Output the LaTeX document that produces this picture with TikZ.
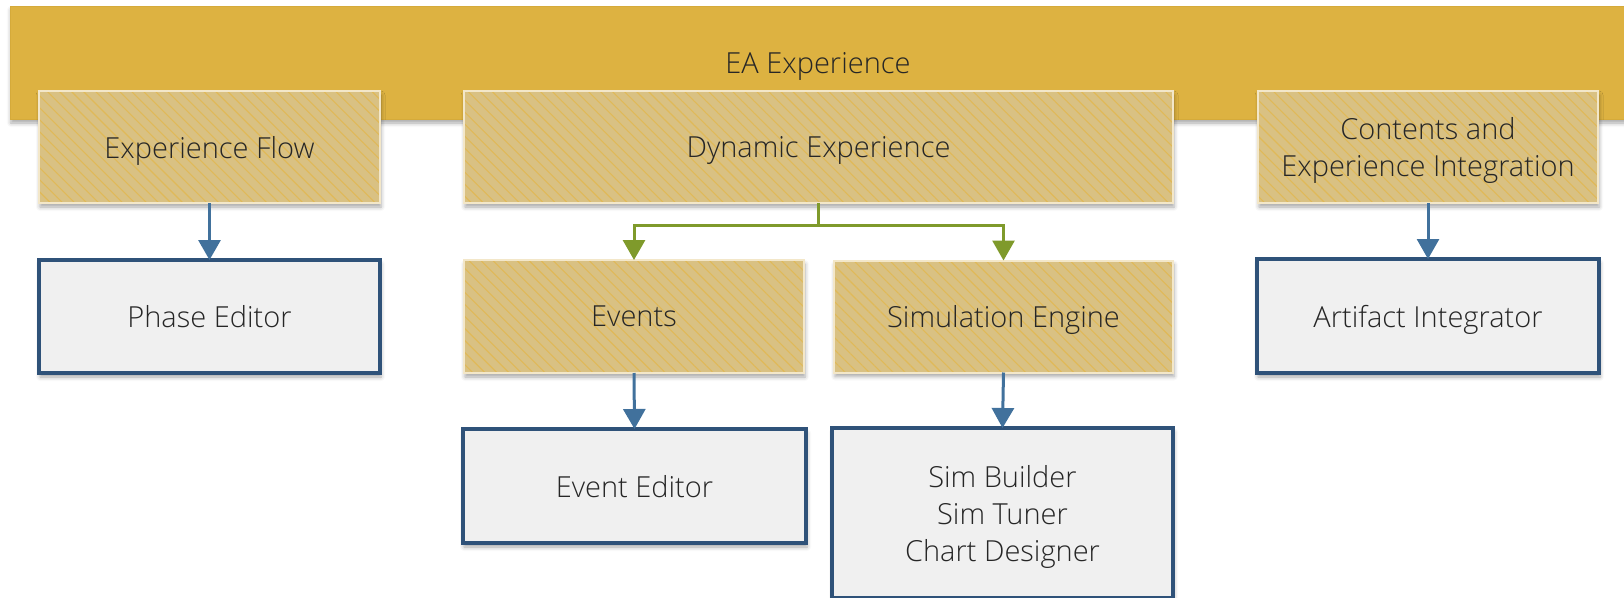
\documentclass[tikz,border=0pt]{standalone}
\usepackage{fontspec}
\IfFontExistsTF{Open Sans Light}
  {\setmainfont{Open Sans Light}\def\inkcol{262626}}
  {\setmainfont{Open Sans}\def\inkcol{3A3A3A}}
\usetikzlibrary{arrows.meta,patterns.meta,shadows.blur}

\definecolor{barfill}{HTML}{DDB241}
\definecolor{baredge}{HTML}{D5AA3A}
\definecolor{tanfill}{HTML}{D9C183}
\definecolor{tanstripe}{HTML}{E0B958}
\definecolor{tanedge}{HTML}{F3E7C9}
\definecolor{boxfill}{HTML}{F0F0F0}
\definecolor{boxedge}{HTML}{2F5279}
\definecolor{bluearrow}{HTML}{41719C}
\definecolor{greenarrow}{HTML}{7F9A2B}
\definecolor{textcol}{HTML}{\inkcol}

\tikzset{
  softshadow/.style={blur shadow={shadow xshift=1pt, shadow yshift=-4pt,
      shadow blur radius=4pt, shadow opacity=35}},
  txt/.style={font=\fontsize{29}{37}\selectfont, text=textcol, align=center,
      text depth=0pt, inner sep=0pt, outer sep=0pt},
  bar/.style={txt, rectangle, fill=barfill, draw=baredge, line width=1pt, softshadow},
  hatchbox/.style={txt, rectangle, draw=tanedge, line width=2pt, softshadow,
      preaction={fill=tanfill},
      pattern={Lines[angle=-45, distance=8.5pt, line width=1.1pt]},
      pattern color=tanstripe},
  toolbox/.style={txt, rectangle, fill=boxfill, draw=boxedge, line width=3.3pt, softshadow},
  blueline/.style={draw=bluearrow, line width=3pt,
      -{Triangle[width=22pt, length=20pt]}},
  greenline/.style={draw=greenarrow, line width=3pt,
      -{Triangle[width=22pt, length=20pt]}},
}

\begin{document}
\begin{tikzpicture}[x=1pt, y=-1pt]
  \useasboundingbox (0,0) rectangle (1624,597);

  % banner across the top
  \node[bar, minimum width=1616pt, minimum height=113pt] (ea) at (818,62.5) {EA Experience};

  % capability areas
  \node[hatchbox, minimum width=341pt, minimum height=112pt] (flow) at (209.5,147) {Experience Flow};
  \node[hatchbox, minimum width=709pt, minimum height=112pt] (dyn) at (818.5,147) {Dynamic Experience};
  \node[hatchbox, minimum width=340pt, minimum height=112pt] (cont) at (1428,147) {Contents and\\Experience Integration};

  % sub-areas of dynamic experience
  \node[hatchbox, minimum width=340pt, minimum height=113pt] (events) at (634,316.5) {Events};
  \node[hatchbox, minimum width=339pt, minimum height=112pt] (simeng) at (1003.5,316.5) {Simulation Engine};

  % tools
  \node[toolbox, minimum width=341pt, minimum height=113pt] (phase) at (209.5,316.5) {Phase Editor};
  \node[toolbox, minimum width=342pt, minimum height=114pt] (artifact) at (1428,316) {Artifact Integrator};
  \node[toolbox, minimum width=343pt, minimum height=114pt] (evedit) at (634.5,486) {Event Editor};
  \node[toolbox, minimum width=341pt, minimum height=170pt] (simtools) at (1002.5,513) {Sim Builder\\Sim Tuner\\Chart Designer};

  % connectors
  \draw[blueline] (flow.south) -- (phase.north);
  \draw[blueline] (cont.south) -- (artifact.north);
  \draw[blueline] (events.south) -- (evedit.north);
  \draw[blueline] (simeng.south) -- (simtools.north);
  \coordinate (split) at ([yshift=-22pt]dyn.south);
  \draw[greenline] (dyn.south) -- (split) -| (events.north);
  \draw[greenline] (split) -| (simeng.north);
\end{tikzpicture}
\end{document}
